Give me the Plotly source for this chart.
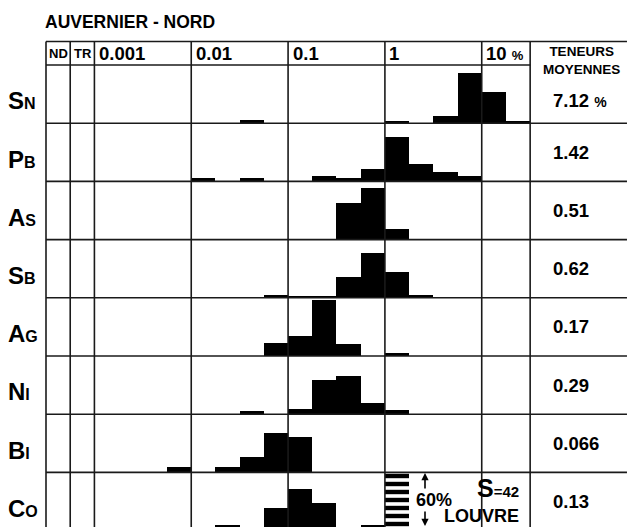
import plotly.graph_objects as go

# ---------------- data ----------------
elements = ["Sn", "Pb", "As", "Sb", "Ag", "Ni", "Bi", "Co"]
label_big = ["S", "P", "A", "S", "A", "N", "B", "C"]
label_small = ["N", "B", "S", "B", "G", "I", "I", "O"]
mean_contents = ["7.12", "1.42", "0.51", "0.62", "0.17", "0.29", "0.066", "0.13"]
# left edges of quarter-decade classes (log10 of content in %)
bin_left = [-3.0, -2.75, -2.5, -2.25, -2.0, -1.75, -1.5, -1.25, -1.0,
            -0.75, -0.5, -0.25, 0.0, 0.25, 0.5, 0.75, 1.0, 1.25]
freq_sn = [0, 0, 0, 0, 0, 0, 3, 0, 0, 0, 0, 0, 2, 0, 7, 52, 32, 2]
freq_pb = [0, 0, 0, 0, 3, 0, 3, 0, 0, 6, 4, 13, 46, 18, 10, 6, 0, 0]
freq_as = [0, 0, 0, 0, 0, 0, 0, 0, 0, 0, 38, 53, 11, 0, 0, 0, 0, 0]
freq_sb = [0, 0, 0, 0, 0, 0, 0, 3, 1, 1, 21, 46, 27, 3, 0, 0, 0, 0]
freq_ag = [0, 0, 0, 0, 0, 0, 0, 13, 21, 58, 12, 0, 3, 0, 0, 0, 0, 0]
freq_ni = [0, 0, 0, 0, 0, 0, 3, 0, 5, 35, 39, 12, 4, 0, 0, 0, 0, 0]
freq_bi = [0, 0, 0, 6, 0, 6, 16, 41, 36, 0, 0, 0, 0, 0, 0, 0, 0, 0]
freq_co = [0, 0, 0, 0, 0, 6, 0, 23, 43, 28, 0, 6, 0, 0, 0, 0, 0, 0]
co_offscale_bin = 0.0      # class 1 - 1.78 %
co_offscale_value = 60     # > 60 % (hatched)
column_labels = ["0.001", "0.01", "0.1", "1", "10"]
column_pos = [-3, -2, -1, 0, 1]
title = "AUVERNIER - NORD"
n_samples = "42"
site = "LOUVRE"

freqs = [freq_sn, freq_pb, freq_as, freq_sb, freq_ag, freq_ni, freq_bi, freq_co]

# ---------------- geometry helpers ----------------
ROW = 60.0                 # one row = 60 %
PX_DEC = 96.83             # px per decade
PX_UNIT = 0.97             # px per % unit
BIN_W = 0.25
X_RIGHT = 2.5
X_CHART_END = 1.5


def xd(px):
    return -3.5 + (px - 46) / PX_DEC


def yd(py):
    return (65 - py) / PX_UNIT


W, H = 627, 527
x_range = [xd(0), xd(W)]
y_range = [yd(H), yd(0)]
HEADER_TOP = yd(41.5)

FONT = "Liberation Sans, Arial, Helvetica, sans-serif"
INK = "#000000"
LINE = "#1a1a1a"

fig = go.Figure()

for k, vals in enumerate(freqs):
    base = -ROW * (k + 1)
    xs, ys = [], []
    for b, v in zip(bin_left, vals):
        if v > 0:
            xs.append(b + BIN_W / 2)
            ys.append(v)
    fig.add_trace(go.Bar(
        x=xs, y=ys, base=[base] * len(xs), width=[BIN_W] * len(xs),
        marker=dict(color=INK, line=dict(width=0)),
        name=elements[k], showlegend=False, hoverinfo="skip"))

# hatched off-scale class for Co
fig.add_trace(go.Bar(
    x=[co_offscale_bin + BIN_W / 2], y=[co_offscale_value],
    base=[-ROW * 8], width=[BIN_W * 0.97],
    marker=dict(color="white",
                pattern=dict(shape="-", fgcolor="black", bgcolor="white",
                             fgopacity=1, size=8, solidity=0.55),
                line=dict(width=0)),
    showlegend=False, hoverinfo="skip"))

shapes = []
lw = 1.6
# vertical lines
for xv in [-3.5, -3.25, -3.0, -2.0, -1.0, 0.0, 1.0, X_CHART_END]:
    shapes.append(dict(type="line", xref="x", yref="y", x0=xv, x1=xv,
                       y0=HEADER_TOP, y1=y_range[0] - 5,
                       line=dict(color=LINE, width=lw)))
# header top
shapes.append(dict(type="line", xref="x", yref="y", x0=-3.5, x1=X_RIGHT,
                   y0=HEADER_TOP, y1=HEADER_TOP, line=dict(color=LINE, width=lw)))
# header bottom (chart part only)
shapes.append(dict(type="line", xref="x", yref="y", x0=-3.5, x1=X_CHART_END,
                   y0=0, y1=0, line=dict(color=LINE, width=lw)))
# row separators
for k in range(1, 8):
    yv = -ROW * k
    shapes.append(dict(type="line", xref="x", yref="y", x0=-3.5, x1=X_RIGHT,
                       y0=yv, y1=yv, line=dict(color=LINE, width=lw)))

ann = []


def txt(x, y, text, size, xanchor="left", yanchor="middle", align="left"):
    ann.append(dict(x=x, y=y, xref="x", yref="y", text=text, showarrow=False,
                    xanchor=xanchor, yanchor=yanchor, align=align,
                    font=dict(family=FONT, size=size, color=INK)))


# title
txt(xd(43), yd(22), "<b>%s</b>" % title, 17.5)
# header
txt(xd(47), yd(53.5), "<b>ND</b>", 13)
txt(xd(72), yd(53.5), "<b>TR</b>", 13)
for lab, pos in zip(column_labels, column_pos):
    if lab == "10":
        t = "<b>10 <span style='font-size:13px'>%</span></b>"
    else:
        t = "<b>%s</b>" % lab
    txt(pos + 2.5 / PX_DEC, yd(53.5), t, 18.5)
txt(xd(581), yd(60), "<b>TENEURS<br>MOYENNES</b>", 13.5, xanchor="center", align="center")

# row labels and mean values
for k in range(8):
    center = -ROW * k - ROW / 2
    txt(xd(6), center - 7,
        "<b>%s<span style='font-size:16px'>%s</span></b>" % (label_big[k], label_small[k]), 24)
    if k == 0:
        t = "<b>%s <span style='font-size:14px'>%%</span></b>" % mean_contents[k]
        txt(xd(551), yd(100), t, 18.5)
    else:
        txt(xd(551), center, "<b>%s</b>" % mean_contents[k], 18.5)

# Co annotation block
txt(xd(414), yd(500), "<b>60%</b>", 18)
txt(xd(521), yd(488), "<b>S<span style='font-size:15px'>=%s</span></b>" % n_samples, 25,
    xanchor="right")
txt(xd(442), yd(516), "<b>%s</b>" % site, 18)
for head, tail in [(473, 490), (526, 510)]:
    ann.append(dict(x=xd(425), y=yd(head), ax=xd(425), ay=yd(tail),
                    xref="x", yref="y", axref="x", ayref="y", text="",
                    showarrow=True, arrowhead=2, arrowsize=0.9, arrowwidth=1.6,
                    arrowcolor=INK))

fig.update_layout(
    width=W, height=H,
    margin=dict(l=0, r=0, t=0, b=0, pad=0),
    paper_bgcolor="white", plot_bgcolor="white",
    barmode="overlay", bargap=0,
    xaxis=dict(range=x_range, visible=False, fixedrange=True),
    yaxis=dict(range=y_range, visible=False, fixedrange=True),
    shapes=shapes, annotations=ann,
    showlegend=False,
)

fig.write_html("out.html", config={"displayModeBar": False},
               post_script="document.body.style.margin='0px';")
